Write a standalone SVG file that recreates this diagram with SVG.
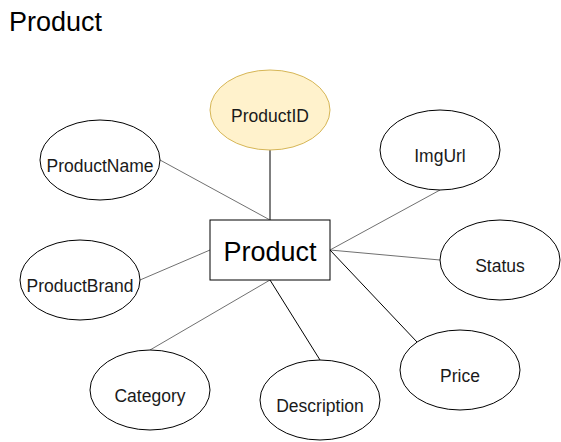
<svg xmlns="http://www.w3.org/2000/svg" width="561" height="442" viewBox="0 0 561 442">
<style>
  .attr { fill: #ffffff; stroke: #000000; stroke-width: 1; }
  .key { fill: #fff2cc; stroke: #d6b656; stroke-width: 1; }
  .lbl { font-family: "Liberation Sans", Arial, sans-serif; font-size: 17.5px; fill: #1a1a1a; text-anchor: middle; }
  .big { font-family: "Liberation Sans", Arial, sans-serif; font-size: 27px; fill: #000000; }
  .c-black { stroke: #000000; stroke-width: 1; fill: none; }
  .c-gray { stroke: #707070; stroke-width: 1; fill: none; }
</style>
<rect width="561" height="442" fill="#ffffff"/>
<text class="big" x="9" y="31" font-size="26">Product</text>
<g id="connectors">
  <line class="c-black" x1="270" y1="150" x2="270" y2="220"/>
  <line class="c-gray" x1="160" y1="160" x2="270" y2="220"/>
  <line class="c-gray" x1="440" y1="190" x2="330" y2="250"/>
  <line class="c-gray" x1="330" y1="250" x2="440" y2="260"/>
  <line class="c-gray" x1="140" y1="280" x2="210" y2="250"/>
  <line class="c-gray" x1="270" y1="280" x2="150" y2="350"/>
  <line class="c-black" x1="270" y1="280" x2="320" y2="360"/>
  <line class="c-black" x1="330" y1="250" x2="417" y2="342"/>
</g>
<g id="entity-product">
  <rect x="210" y="220" width="120" height="60" fill="#ffffff" stroke="#000000" stroke-width="1"/>
  <text class="big" x="270" y="260.5" text-anchor="middle">Product</text>
</g>
<g id="attr-productid">
  <ellipse class="key" cx="270" cy="110" rx="60" ry="40"/>
  <text class="lbl" x="270" y="121.5">ProductID</text>
</g>
<g id="attr-productname">
  <ellipse class="attr" cx="100" cy="160" rx="60" ry="40"/>
  <text class="lbl" x="100" y="171.5">ProductName</text>
</g>
<g id="attr-imgurl">
  <ellipse class="attr" cx="440" cy="150" rx="60" ry="40"/>
  <text class="lbl" x="440" y="161.5">ImgUrl</text>
</g>
<g id="attr-status">
  <ellipse class="attr" cx="500" cy="260" rx="60" ry="40"/>
  <text class="lbl" x="500" y="271.5">Status</text>
</g>
<g id="attr-productbrand">
  <ellipse class="attr" cx="80" cy="280" rx="60" ry="40"/>
  <text class="lbl" x="80" y="291.5">ProductBrand</text>
</g>
<g id="attr-category">
  <ellipse class="attr" cx="150" cy="390" rx="60" ry="40"/>
  <text class="lbl" x="150" y="401.5">Category</text>
</g>
<g id="attr-description">
  <ellipse class="attr" cx="320" cy="400" rx="60" ry="40"/>
  <text class="lbl" x="320" y="411.5">Description</text>
</g>
<g id="attr-price">
  <ellipse class="attr" cx="460" cy="370" rx="60" ry="40"/>
  <text class="lbl" x="460" y="381.5">Price</text>
</g>
</svg>
